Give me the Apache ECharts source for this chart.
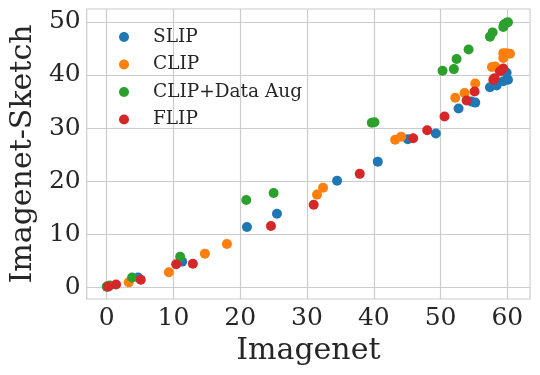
<!DOCTYPE html>
<html>
<head>
<meta charset="utf-8">
<script src="https://cdn.jsdelivr.net/npm/echarts@6/dist/echarts.min.js"></script>
<style>
html,body{margin:0;padding:0;background:#fff;}
#chart{width:540px;height:375px;}
</style>
</head>
<body>
<div id="chart"></div>
<script>
const seriesNames = ['SLIP', 'CLIP', 'CLIP+Data Aug', 'FLIP'];
const slipX = [0.1, 4.7, 11.3, 21.0, 25.5, 34.5, 40.6, 45.1, 49.3, 52.7, 54.6, 55.2, 57.4, 58.4, 59.4, 59.9, 60.1];
const slipY = [0.2, 1.9, 4.9, 11.4, 13.9, 20.1, 23.7, 27.9, 29.0, 33.7, 35.0, 34.8, 37.7, 38.0, 38.8, 40.4, 39.1];
const clipX = [3.3, 9.3, 14.7, 18.0, 31.5, 32.4, 43.2, 44.1, 52.2, 53.6, 55.2, 57.7, 58.2, 59.4, 59.4, 59.9, 60.4];
const clipY = [1.0, 2.9, 6.4, 8.2, 17.5, 18.8, 27.8, 28.4, 35.7, 36.6, 38.4, 41.5, 41.6, 43.2, 44.1, 44.1, 44.0];
const augX = [0.0, 0.5, 3.8, 11.0, 20.9, 25.0, 39.7, 40.1, 50.3, 52.0, 52.4, 54.2, 57.4, 57.8, 59.4, 59.5, 59.9, 60.1];
const augY = [0.2, 0.4, 1.9, 5.8, 16.5, 17.8, 31.0, 31.1, 40.8, 41.1, 43.0, 44.8, 47.2, 48.0, 49.0, 49.5, 49.8, 49.9];
const flipX = [0.2, 1.4, 5.1, 10.4, 12.9, 24.6, 31.0, 37.9, 45.9, 48.0, 50.6, 53.9, 55.1, 57.9, 58.1, 58.9, 59.4];
const flipY = [0.2, 0.6, 1.5, 4.4, 4.5, 11.6, 15.6, 21.4, 28.1, 29.6, 32.2, 35.2, 36.9, 39.1, 39.4, 40.7, 41.2];
const xTicks = [0, 10, 20, 30, 40, 50, 60];
const yTicks = [0, 10, 20, 30, 40, 50];

const colors = ['#1f77b4', '#ff7f0e', '#2ca02c', '#d62728'];
const xs = [slipX, clipX, augX, flipX];
const ys = [slipY, clipY, augY, flipY];
const font = 'DejaVu Serif';

const chart = echarts.init(document.getElementById('chart'), null, {renderer: 'canvas'});
const option = {
  animation: false,
  backgroundColor: '#ffffff',
  color: colors,
  grid: {left: 83, right: 10, top: 9, bottom: 76, show: true, borderColor: '#cccccc', borderWidth: 1.2, backgroundColor: '#ffffff'},
  legend: {
    orient: 'vertical', left: 114, top: 22,
    icon: 'circle', itemWidth: 10, itemHeight: 10, itemGap: 7.5,
    textStyle: {fontFamily: font, fontSize: 18.5, color: '#262626', lineHeight: 20, padding: [0, 0, 0, 19]},
    data: seriesNames
  },
  xAxis: {
    type: 'value', min: -3, max: 63.4,
    name: 'Imagenet', nameLocation: 'middle', nameGap: 36,
    nameTextStyle: {fontFamily: font, fontSize: 30, color: '#262626'},
    axisLine: {show: false}, axisTick: {show: false, customValues: xTicks},
    axisLabel: {customValues: xTicks, fontFamily: font, fontSize: 25, color: '#262626', margin: 7},
    splitLine: {show: true, lineStyle: {color: '#cccccc', width: 1.2}}
  },
  yAxis: {
    type: 'value', min: -2.13, max: 52.4,
    name: 'Imagenet-Sketch', nameLocation: 'middle', nameGap: 46, nameRotate: 90,
    nameTextStyle: {fontFamily: font, fontSize: 30, color: '#262626'},
    axisLine: {show: false}, axisTick: {show: false, customValues: yTicks},
    axisLabel: {customValues: yTicks, fontFamily: font, fontSize: 25, color: '#262626', margin: 6},
    splitLine: {show: true, lineStyle: {color: '#cccccc', width: 1.2}}
  },
  series: seriesNames.map((n, i) => ({
    name: n, type: 'scatter', symbol: 'circle', symbolSize: 10,
    itemStyle: {color: colors[i], opacity: 1},
    data: xs[i].map((x, j) => [x, ys[i][j]])
  }))
};
chart.setOption(option);
</script>
</body>
</html>
